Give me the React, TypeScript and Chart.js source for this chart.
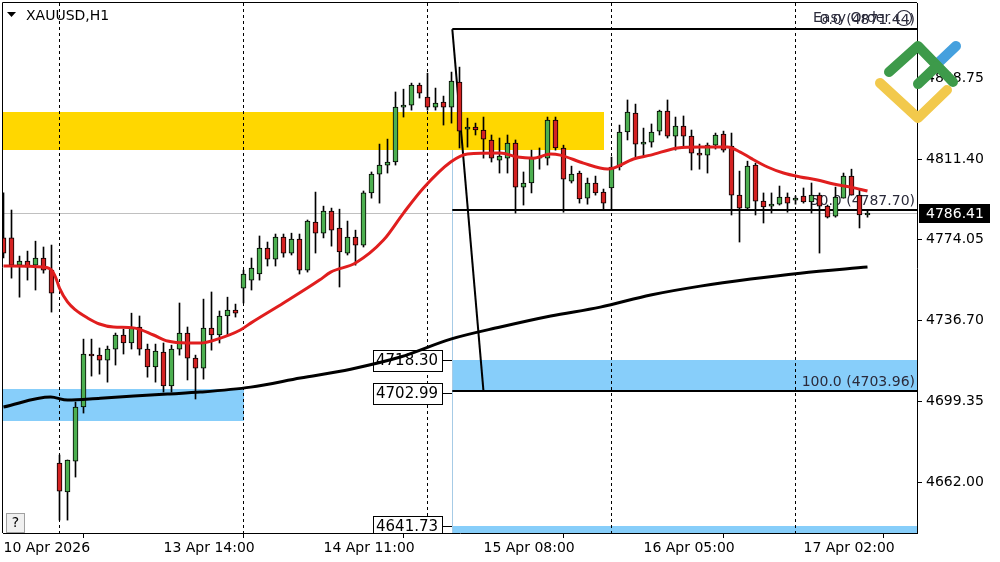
import React, { useEffect, useRef } from 'react';
import { Chart, registerables } from 'chart.js';

Chart.register(...registerables);

const FONT = '"DejaVu Sans", Verdana, sans-serif';

// ---- candle data (hourly bars, index 0 = 10 Apr 17:00) ----
const opens = [
  4774.9, 4774.9, 4762.3, 4764.2, 4762.3, 4765.6, 4760.0, 4670.8, 4657.4, 4671.7,
  4696.7, 4721.2, 4720.7, 4718.4, 4723.5, 4730.0, 4726.3, 4733.7, 4723.5, 4715.2,
  4722.1, 4706.4, 4723.5, 4730.9, 4719.3, 4714.7, 4733.2, 4730.0, 4738.8, 4741.5,
  4751.7, 4755.4, 4758.2, 4770.2, 4765.1, 4775.3, 4767.9, 4774.4, 4760.0, 4782.2,
  4777.1, 4787.3, 4779.5, 4767.9, 4775.3, 4771.6, 4795.7, 4804.4, 4808.6, 4810.0,
  4835.4, 4836.3, 4845.6, 4840.0, 4835.4, 4837.7, 4835.4, 4847.0, 4825.2, 4826.2,
  4824.8, 4820.2, 4810.9, 4811.8, 4818.8, 4798.4, 4800.3, 4811.8, 4811.8, 4829.4,
  4816.5, 4801.2, 4804.9, 4793.3, 4800.3, 4796.1, 4798.0, 4807.7, 4823.9, 4832.6,
  4818.3, 4819.2, 4824.3, 4833.6, 4822.0, 4826.6, 4822.0, 4814.1, 4813.2, 4817.8,
  4822.9, 4817.4, 4794.7, 4788.7, 4808.6, 4791.9, 4789.6, 4790.5, 4793.8, 4792.4,
  4794.3, 4791.5, 4794.7, 4789.6, 4785.0, 4793.3, 4803.5, 4794.7, 4785.5,
];
const highs = [
  4795.7, 4787.8, 4766.5, 4768.8, 4773.4, 4770.7, 4771.6, 4674.5, 4672.2, 4699.0,
  4728.1, 4728.1, 4724.0, 4724.9, 4730.9, 4732.7, 4740.1, 4738.8, 4725.8, 4725.8,
  4726.3, 4725.3, 4744.8, 4733.7, 4720.7, 4746.6, 4749.9, 4741.1, 4747.5, 4744.3,
  4760.0, 4765.6, 4775.8, 4773.0, 4776.7, 4776.7, 4777.1, 4776.7, 4783.2, 4796.1,
  4789.6, 4788.7, 4788.2, 4782.7, 4778.5, 4796.6, 4805.4, 4818.3, 4820.6, 4842.4,
  4843.7, 4846.5, 4846.5, 4851.1, 4844.2, 4840.5, 4851.6, 4853.9, 4830.3, 4828.0,
  4830.8, 4822.5, 4821.1, 4822.5, 4820.2, 4805.4, 4815.5, 4816.5, 4830.8, 4830.8,
  4817.8, 4808.1, 4805.8, 4802.6, 4803.5, 4797.5, 4812.3, 4827.1, 4838.7, 4836.8,
  4825.7, 4827.6, 4834.0, 4838.7, 4830.8, 4831.3, 4824.8, 4818.3, 4818.8, 4823.4,
  4824.3, 4823.4, 4805.8, 4810.4, 4809.5, 4795.7, 4795.7, 4798.9, 4795.7, 4794.3,
  4798.0, 4800.3, 4795.7, 4790.1, 4798.4, 4804.9, 4806.7, 4797.0, 4787.8,
];
const lows = [
  4765.6, 4756.3, 4747.5, 4755.4, 4750.8, 4758.6, 4740.6, 4644.4, 4644.4, 4664.3,
  4693.9, 4711.0, 4711.9, 4708.2, 4716.1, 4721.2, 4723.5, 4720.7, 4710.5, 4708.2,
  4703.6, 4703.6, 4720.7, 4709.2, 4700.4, 4709.6, 4723.0, 4726.3, 4730.0, 4738.3,
  4744.8, 4750.8, 4755.4, 4761.9, 4761.9, 4766.0, 4767.0, 4758.2, 4759.1, 4767.9,
  4774.9, 4771.1, 4752.2, 4767.0, 4762.3, 4770.7, 4793.3, 4791.0, 4804.9, 4808.6,
  4830.8, 4834.0, 4839.6, 4834.0, 4834.0, 4827.1, 4828.0, 4816.5, 4816.9, 4822.5,
  4811.8, 4810.0, 4804.9, 4804.9, 4786.4, 4790.1, 4795.7, 4806.7, 4808.6, 4815.5,
  4786.8, 4800.3, 4791.0, 4790.5, 4794.7, 4787.8, 4787.8, 4806.3, 4820.2, 4812.3,
  4812.8, 4816.9, 4822.5, 4821.1, 4815.5, 4816.9, 4806.3, 4806.7, 4804.9, 4816.0,
  4814.6, 4785.5, 4773.0, 4787.8, 4785.5, 4781.8, 4786.4, 4790.1, 4786.8, 4790.5,
  4791.0, 4786.4, 4767.9, 4784.1, 4784.5, 4793.3, 4794.7, 4779.5, 4784.5,
];
const closes = [
  4767.9, 4762.3, 4764.2, 4761.4, 4765.6, 4760.0, 4749.4, 4657.8, 4672.2, 4696.7,
  4721.2, 4720.3, 4718.4, 4723.5, 4730.0, 4726.3, 4733.2, 4723.5, 4715.2, 4722.6,
  4706.4, 4723.5, 4730.9, 4719.3, 4714.7, 4733.2, 4730.0, 4738.8, 4741.5, 4740.1,
  4758.2, 4761.0, 4770.2, 4765.1, 4775.3, 4767.9, 4774.4, 4760.0, 4782.7, 4777.1,
  4787.3, 4778.5, 4768.4, 4775.3, 4771.6, 4795.7, 4804.4, 4808.6, 4810.0, 4835.4,
  4836.3, 4845.6, 4841.9, 4835.4, 4837.3, 4835.4, 4847.4, 4824.3, 4826.2, 4824.8,
  4820.6, 4811.8, 4812.8, 4818.8, 4798.4, 4800.3, 4812.3, 4812.3, 4829.4, 4816.5,
  4802.1, 4804.4, 4792.9, 4800.3, 4795.7, 4791.0, 4807.7, 4823.9, 4833.1, 4818.3,
  4819.2, 4823.9, 4833.6, 4822.0, 4826.6, 4822.0, 4814.1, 4813.2, 4817.8, 4822.5,
  4815.5, 4794.7, 4788.7, 4808.1, 4791.9, 4789.2, 4790.5, 4793.8, 4791.0, 4792.9,
  4791.5, 4794.7, 4789.6, 4784.5, 4793.8, 4803.5, 4794.7, 4785.5, 4786.4,
];

// ---- moving averages (read points: bar position, price) ----
const redMaBars = [0, 5, 6, 6.5, 7, 8, 9, 10.5, 12, 13.75, 16.25, 18.75, 20.5, 23, 24.6, 26.75, 29.6, 30.9, 35, 39.5,
  40.9, 44, 47.5, 50, 52.5, 55.9, 58, 62.1, 64.25, 66.25, 68.4, 69.6, 72.5, 75.5, 76.25, 78.75, 80.9, 84.25, 87.1, 90.5,
  92.1, 93.4, 95.5, 97.5, 99.6, 101.75, 103.75, 105.9, 108];
const redMaValues = [4761.9, 4761.4, 4760.1, 4756.8, 4751.7, 4745.3, 4741.6, 4737.9, 4735.1, 4733.7,
  4733.3, 4730.0, 4727.2, 4726.3, 4726.3, 4728.1, 4732.3, 4735.5, 4744.8, 4755.4,
  4759.1, 4763.3, 4773.9, 4786.4, 4798.0, 4810.0, 4813.7, 4814.2, 4812.3, 4811.8,
  4813.7, 4813.2, 4809.5, 4806.8, 4807.2, 4811.4, 4813.2, 4816.5, 4817.0, 4817.0,
  4814.6, 4811.8, 4807.7, 4804.9, 4803.1, 4801.7, 4799.8, 4798.4, 4796.6];
const blackMaBars = [0, 5.9, 8, 12.1, 20.5, 24.6, 30.9, 37.1, 43.4, 49.6, 55.9, 62.1, 68.4, 74.6, 80.9, 87.1, 93.4, 99.6, 108];
const blackMaValues = [4696.7, 4701.3, 4699.9, 4700.8, 4702.7, 4703.6, 4705.9, 4710.1, 4714.2, 4719.8,
  4728.1, 4733.7, 4738.8, 4742.9, 4748.5, 4752.6, 4755.9, 4758.6, 4761.4];

// ---- axes ----
const xTickBars = [0, 20, 40, 60, 80, 100];
const xTickLabels = ['10 Apr 2026', '13 Apr 14:00', '14 Apr 11:00', '15 Apr 08:00', '16 Apr 05:00', '17 Apr 02:00'];
const yTickValues = [4662.0, 4699.35, 4736.7, 4774.05, 4811.4, 4848.75];
const daySeparatorBars = [7, 30, 53, 76, 99];
const priceMin = 4638.43;
const priceMax = 4883.55;

// ---- drawn objects ----
const supplyZone = { fromBar: -1, toBar: 75, low: 4815.6, high: 4833.1 };
const demandZoneLeft = { fromBar: -1, toBar: 30, low: 4690.2, high: 4705.0 };
const demandZoneRight = { fromBar: 56.1, low: 4703.96, high: 4718.3 };
const lowerZone = { fromBar: 56.1, low: 4600.0, high: 4641.73 };
const fibStart = { bar: 56.1, price: 4871.44 };
const fibEnd = { bar: 60, price: 4703.96 };
const fibLevels = [0, 50, 100];
const priceTags = [4718.3, 4702.99, 4641.73];
const bidPrice = 4786.41;
const symbolTitle = 'XAUUSD,H1';

const GREEN = '#4caf50';
const RED = '#d42222';
const BLUE = '#87cefa';
const YELLOW = '#ffd700';

const overlayPlugin = {
  id: 'mtOverlay',
  beforeDatasetsDraw(chart: any) {
    const { ctx, chartArea: a, scales } = chart;
    const xs = scales.x, ys = scales.y;
    const X = (v: number) => xs.getPixelForValue(v);
    const Y = (v: number) => ys.getPixelForValue(v);
    ctx.save();
    ctx.beginPath();
    ctx.rect(a.left, a.top, a.right - a.left, a.bottom - a.top);
    ctx.clip();

    const zone = (z: any, color: string) => {
      const x1 = Math.round(X(z.fromBar));
      const x2 = z.toBar === undefined ? a.right : Math.round(X(z.toBar));
      const y1 = Math.round(Y(z.high));
      const y2 = Math.round(Y(z.low));
      ctx.fillStyle = color;
      ctx.fillRect(x1, y1, x2 - x1, y2 - y1);
    };
    zone(supplyZone, YELLOW);
    zone(demandZoneLeft, BLUE);
    zone(demandZoneRight, BLUE);
    zone(lowerZone, BLUE);

    // bid line
    ctx.strokeStyle = '#c0c0c0';
    ctx.lineWidth = 1;
    const by = Math.round(Y(bidPrice)) + 0.5;
    ctx.beginPath();
    ctx.moveTo(a.left, by);
    ctx.lineTo(a.right, by);
    ctx.stroke();

    // day separators
    ctx.strokeStyle = '#000';
    ctx.setLineDash([3, 3]);
    daySeparatorBars.forEach((b) => {
      const px = Math.floor(X(b)) + 0.5;
      ctx.beginPath();
      ctx.moveTo(px, a.top);
      ctx.lineTo(px, a.bottom);
      ctx.stroke();
    });
    ctx.setLineDash([]);

    // rectangle edge line
    const fx = Math.round(X(fibStart.bar)) + 0.5;
    ctx.strokeStyle = '#a6cbe6';
    ctx.beginPath();
    ctx.moveTo(fx, Y(supplyZone.low));
    ctx.lineTo(fx, a.bottom);
    ctx.stroke();

    // fibonacci
    ctx.strokeStyle = '#000';
    ctx.lineWidth = 2;
    ctx.beginPath();
    ctx.moveTo(X(fibStart.bar), Y(fibStart.price));
    ctx.lineTo(X(fibEnd.bar), Y(fibEnd.price));
    ctx.stroke();
    ctx.font = '14px ' + FONT;
    ctx.textAlign = 'right';
    ctx.textBaseline = 'bottom';
    fibLevels.forEach((lv) => {
      const price = fibStart.price + (fibEnd.price - fibStart.price) * lv / 100;
      const ly = Math.round(Y(price));
      ctx.strokeStyle = '#000';
      ctx.beginPath();
      ctx.moveTo(X(fibStart.bar), ly);
      ctx.lineTo(a.right, ly);
      ctx.stroke();
      ctx.fillStyle = '#2a2a3a';
      ctx.fillText(lv.toFixed(1) + ' (' + price.toFixed(2) + ')', a.right - 2, ly - 2);
    });

    // Easy Order panel text
    ctx.fillStyle = '#2a2a3a';
    ctx.textAlign = 'left';
    ctx.textBaseline = 'middle';
    ctx.fillText('Easy Order', 813, 18);
    ctx.lineWidth = 1.2;
    ctx.strokeStyle = '#2a2a3a';
    ctx.beginPath();
    ctx.arc(904, 18, 7.5, 0, Math.PI * 2);
    ctx.stroke();

    // price tags
    ctx.font = '15px ' + FONT;
    ctx.lineWidth = 1;
    priceTags.forEach((p) => {
      const cy = Math.round(Y(p));
      const right = Math.round(X(fibStart.bar)) - 10;
      const label = p.toFixed(2);
      const w = Math.ceil(ctx.measureText(label).width) + 6;
      const left = right - w;
      ctx.fillStyle = '#fff';
      ctx.fillRect(left, cy - 10, w, 21);
      ctx.strokeStyle = '#000';
      ctx.strokeRect(left + 0.5, cy - 10 + 0.5, w, 21);
      ctx.beginPath();
      ctx.moveTo(right, cy + 0.5);
      ctx.lineTo(Math.round(X(fibStart.bar)), cy + 0.5);
      ctx.stroke();
      ctx.fillStyle = '#000';
      ctx.textAlign = 'left';
      ctx.textBaseline = 'middle';
      ctx.fillText(label, left + 3, cy + 1);
    });
    ctx.restore();
  },
  afterDraw(chart: any) {
    const { ctx, chartArea: a, scales } = chart;
    const ys = scales.y;
    ctx.save();
    // frame
    ctx.strokeStyle = '#000';
    ctx.lineWidth = 1;
    ctx.beginPath();
    ctx.moveTo(a.left - 0.5, a.bottom);
    ctx.lineTo(a.left - 0.5, a.top - 0.5);
    ctx.lineTo(a.right, a.top - 0.5);
    ctx.stroke();

    // title
    ctx.fillStyle = '#000';
    ctx.beginPath();
    ctx.moveTo(7, 12);
    ctx.lineTo(16, 12);
    ctx.lineTo(11.5, 17);
    ctx.closePath();
    ctx.fill();
    ctx.font = '14px ' + FONT;
    ctx.textAlign = 'left';
    ctx.textBaseline = 'middle';
    ctx.fillText(symbolTitle, 26, 16);

    // help box
    ctx.fillStyle = '#f0f0f0';
    ctx.fillRect(6, 513, 18, 19);
    ctx.strokeStyle = '#a0a0a0';
    ctx.strokeRect(6.5, 513.5, 18, 19);
    ctx.fillStyle = '#000';
    ctx.textAlign = 'center';
    ctx.fillText('?', 15.5, 523);

    // current price label on axis
    const py = Math.round(ys.getPixelForValue(bidPrice));
    ctx.fillStyle = '#000';
    ctx.fillRect(919, py - 9, 71, 19);
    ctx.fillStyle = '#fff';
    ctx.textAlign = 'left';
    ctx.fillText(bidPrice.toFixed(2), 926, py + 1);

    // logo
    ctx.lineCap = 'round';
    ctx.lineJoin = 'round';
    ctx.lineWidth = 10;
    ctx.strokeStyle = '#f2c94c';
    ctx.beginPath();
    ctx.moveTo(880, 83);
    ctx.lineTo(918, 118);
    ctx.lineTo(947, 90);
    ctx.stroke();
    ctx.strokeStyle = '#45a0de';
    ctx.beginPath();
    ctx.moveTo(937, 64);
    ctx.lineTo(956, 46);
    ctx.stroke();
    ctx.strokeStyle = '#3d9a4a';
    ctx.beginPath();
    ctx.moveTo(889, 72);
    ctx.lineTo(918, 46);
    ctx.lineTo(953, 82);
    ctx.stroke();
    ctx.beginPath();
    ctx.moveTo(918, 84);
    ctx.lineTo(937, 66);
    ctx.stroke();
    ctx.restore();
  },
};

export default function App() {
  const ref = useRef<HTMLCanvasElement | null>(null);

  useEffect(() => {
    if (!ref.current) return;
    Chart.defaults.font.family = FONT;
    const idx = closes.map((_, i) => i);
    const wickData = idx.map((i) => ({ x: i, y: [lows[i], highs[i]] }));
    const bodyData = idx.map((i) => ({ x: i, y: [opens[i], closes[i]] }));
    const bodyColors = idx.map((i) => (closes[i] >= opens[i] ? GREEN : RED));
    const redData = redMaBars.map((b, i) => ({ x: b, y: redMaValues[i] }));
    const blackData = blackMaBars.map((b, i) => ({ x: b, y: blackMaValues[i] }));
    const xMin = -0.0625;

    const chart = new Chart(ref.current, {
      type: 'bar',
      data: {
        datasets: [
          {
            type: 'bar',
            data: wickData as any,
            backgroundColor: '#000',
            borderWidth: 0,
            barThickness: 1,
            grouped: false,
            order: 3,
          } as any,
          {
            type: 'bar',
            data: bodyData as any,
            backgroundColor: bodyColors,
            borderColor: '#000',
            borderWidth: 1,
            borderSkipped: false,
            barThickness: 5,
            minBarLength: 2,
            grouped: false,
            order: 2,
          } as any,
          {
            type: 'line',
            data: blackData as any,
            borderColor: '#000',
            borderWidth: 3,
            pointRadius: 0,
            cubicInterpolationMode: 'monotone',
            order: 1,
          } as any,
          {
            type: 'line',
            data: redData as any,
            borderColor: '#e01e1e',
            borderWidth: 3,
            pointRadius: 0,
            cubicInterpolationMode: 'monotone',
            order: 0,
          } as any,
        ],
      },
      options: {
        responsive: false,
        animation: false,
        events: [],
        layout: { padding: { left: 3, top: 3, right: 0, bottom: 0 } },
        plugins: { legend: { display: false }, tooltip: { enabled: false } },
        scales: {
          x: {
            type: 'linear',
            min: xMin,
            max: xMin + 114.25,
            offset: false,
            afterFit(s: any) { s.height = 29; s.paddingLeft = 0; s.paddingRight = 0; },
            afterBuildTicks(s: any) { s.ticks = xTickBars.map((v) => ({ value: v })); },
            grid: { display: true, drawOnChartArea: false, drawTicks: true, tickLength: 5, color: '#000' },
            border: { display: true, color: '#000', width: 1 },
            ticks: {
              autoSkip: false,
              maxRotation: 0,
              align: 'start',
              padding: 2,
              color: '#000',
              font: { family: FONT, size: 14 },
              callback: (v: any) => {
                const k = xTickBars.indexOf(Number(v));
                return k >= 0 ? xTickLabels[k] : '';
              },
            },
          } as any,
          y: {
            type: 'linear',
            position: 'right',
            min: priceMin,
            max: priceMax,
            afterFit(s: any) { s.width = 83; s.paddingTop = 0; s.paddingBottom = 0; },
            afterBuildTicks(s: any) { s.ticks = yTickValues.map((v) => ({ value: v })); },
            grid: { display: true, drawOnChartArea: false, drawTicks: true, tickLength: 5, color: '#000' },
            border: { display: true, color: '#000', width: 1 },
            ticks: {
              autoSkip: false,
              padding: 4,
              color: '#000',
              font: { family: FONT, size: 14 },
              callback: (v: any) => Number(v).toFixed(2),
            },
          } as any,
        },
      },
      plugins: [overlayPlugin],
    });
    return () => chart.destroy();
  }, []);

  return (
    <div style={{ position: 'fixed', left: 0, top: 0, width: 1000, height: 562, background: '#fff' }}>
      <canvas ref={ref} width={1000} height={562} style={{ width: 1000, height: 562, display: 'block' }} />
    </div>
  );
}
